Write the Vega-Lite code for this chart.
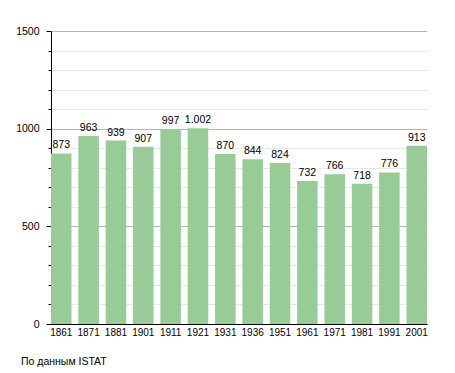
{
  "$schema": "https://vega.github.io/schema/vega-lite/v6.json",
  "autosize": "none",
  "width": 376,
  "height": 293,
  "padding": {"left": 51, "top": 31, "right": 28, "bottom": 49},
  "background": "white",
  "config": {
    "view": {"stroke": null},
    "font": "Liberation Sans",
    "locale": {"number": {"decimal": ",", "thousands": ".", "grouping": [3], "currency": ["", " €"]}}
  },
  "title": {
    "text": "По данным ISTAT",
    "orient": "bottom",
    "anchor": "start",
    "frame": "group",
    "dx": -30,
    "offset": 20,
    "fontSize": 10.5,
    "fontWeight": "normal",
    "color": "black",
    "font": "Liberation Sans"
  },
  "data": {
    "values": [
      {"year": "1861", "pop": 873},
      {"year": "1871", "pop": 963},
      {"year": "1881", "pop": 939},
      {"year": "1901", "pop": 907},
      {"year": "1911", "pop": 997},
      {"year": "1921", "pop": 1002},
      {"year": "1931", "pop": 870},
      {"year": "1936", "pop": 844},
      {"year": "1951", "pop": 824},
      {"year": "1961", "pop": 732},
      {"year": "1971", "pop": 766},
      {"year": "1981", "pop": 718},
      {"year": "1991", "pop": 776},
      {"year": "2001", "pop": 913}
    ]
  },
  "encoding": {
    "x": {
      "field": "year",
      "type": "ordinal",
      "sort": null,
      "scale": {"paddingInner": 0.25, "paddingOuter": 0},
      "axis": {
        "title": null,
        "labelAngle": 0,
        "ticks": false,
        "domainColor": "black",
        "domainWidth": 1,
        "labelPadding": 3,
        "labelFontSize": 10,
        "labelColor": "black",
        "labelFont": "Liberation Sans"
      }
    },
    "y": {
      "field": "pop",
      "type": "quantitative",
      "scale": {"domain": [0, 1500], "nice": false},
      "axis": {
        "title": null,
        "values": [0, 100, 200, 300, 400, 500, 600, 700, 800, 900, 1000, 1100, 1200, 1300, 1400, 1500],
        "labelExpr": "datum.value % 500 == 0 ? datum.value : ''",
        "domainColor": "black",
        "domainWidth": 1,
        "tickColor": "black",
        "tickSize": {"condition": {"test": "datum.value % 500 == 0", "value": 5}, "value": 3},
        "gridColor": {"condition": {"test": "datum.value % 500 == 0", "value": "#b4b4b4"}, "value": "#e8e8e8"},
        "gridWidth": 1,
        "labelPadding": 7,
        "labelFontSize": 10.5,
        "labelColor": "black",
        "labelFont": "Liberation Sans"
      }
    }
  },
  "layer": [
    {"mark": {"type": "bar", "color": "#98cc96"}},
    {
      "mark": {"type": "text", "baseline": "bottom", "dy": -3, "fontSize": 10.5, "color": "black", "font": "Liberation Sans"},
      "encoding": {"text": {"field": "pop", "type": "quantitative", "format": ",d"}}
    }
  ]
}
